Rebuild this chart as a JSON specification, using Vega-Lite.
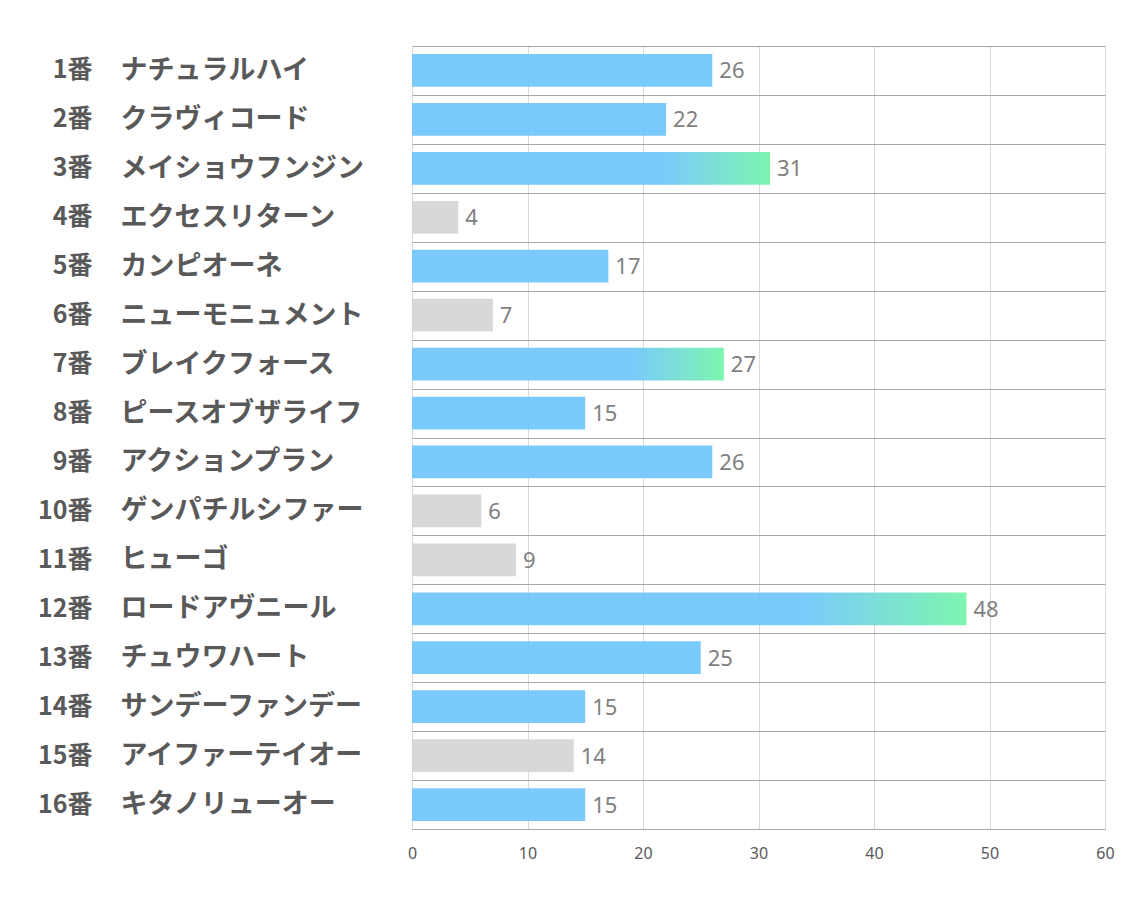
{
  "$schema": "https://vega.github.io/schema/vega-lite/v6.json",
  "autosize": "none",
  "padding": {"left": 412, "top": 46, "right": 29, "bottom": 78},
  "width": 693,
  "height": 783,
  "background": "white",
  "config": {"view": {"stroke": null}},
  "data": {
    "values": [
      {"num": 1, "name": "ナチュラルハイ", "value": 26, "group": "blue"},
      {"num": 2, "name": "クラヴィコード", "value": 22, "group": "blue"},
      {"num": 3, "name": "メイショウフンジン", "value": 31, "group": "top"},
      {"num": 4, "name": "エクセスリターン", "value": 4, "group": "gray"},
      {"num": 5, "name": "カンピオーネ", "value": 17, "group": "blue"},
      {"num": 6, "name": "ニューモニュメント", "value": 7, "group": "gray"},
      {"num": 7, "name": "ブレイクフォース", "value": 27, "group": "top"},
      {"num": 8, "name": "ピースオブザライフ", "value": 15, "group": "blue"},
      {"num": 9, "name": "アクションプラン", "value": 26, "group": "blue"},
      {"num": 10, "name": "ゲンパチルシファー", "value": 6, "group": "gray"},
      {"num": 11, "name": "ヒューゴ", "value": 9, "group": "gray"},
      {"num": 12, "name": "ロードアヴニール", "value": 48, "group": "top"},
      {"num": 13, "name": "チュウワハート", "value": 25, "group": "blue"},
      {"num": 14, "name": "サンデーファンデー", "value": 15, "group": "blue"},
      {"num": 15, "name": "アイファーテイオー", "value": 14, "group": "gray"},
      {"num": 16, "name": "キタノリューオー", "value": 15, "group": "blue"}
    ]
  },
  "resolve": {"axis": {"y": "independent"}},
  "encoding": {
    "x": {
      "field": "value",
      "type": "quantitative",
      "scale": {"domain": [0, 60], "nice": false},
      "axis": {
        "title": null,
        "values": [0, 10, 20, 30, 40, 50, 60],
        "grid": true,
        "gridColor": "#d9d9d9",
        "domain": true,
        "domainColor": "#a6a6a6",
        "ticks": false,
        "labelFlush": false,
        "labelPadding": 16,
        "labelFont": "Noto Sans",
        "labelFontSize": 16,
        "labelColor": "#595959"
      }
    }
  },
  "layer": [
    {
      "transform": [{"filter": "datum.group != 'top'"}],
      "mark": {"type": "bar", "height": {"band": 0.67}, "fillOpacity": 0.9},
      "encoding": {
        "y": {
          "field": "num",
          "type": "ordinal",
          "sort": "ascending",
          "scale": {"paddingInner": 0, "paddingOuter": 0},
          "axis": {
            "title": null,
            "orient": "left",
            "domain": false,
            "ticks": false,
            "grid": true,
            "tickBand": "extent",
            "gridColor": "#a6a6a6",
            "gridWidth": 1,
            "labelAlign": "left",
            "labelPadding": 292,
            "labelLimit": 0,
            "labelFont": "Noto Sans CJK JP",
            "labelFontWeight": "bold",
            "labelFontSize": 27,
            "labelColor": "#595959",
            "labelExpr": "isValid(datum.value) && datum.value >= 1 && datum.value <= 16 ? ['ナチュラルハイ','クラヴィコード','メイショウフンジン','エクセスリターン','カンピオーネ','ニューモニュメント','ブレイクフォース','ピースオブザライフ','アクションプラン','ゲンパチルシファー','ヒューゴ','ロードアヴニール','チュウワハート','サンデーファンデー','アイファーテイオー','キタノリューオー'][datum.value - 1] : ''"
          }
        },
        "color": {
          "field": "group",
          "type": "nominal",
          "scale": {"domain": ["blue", "gray"], "range": ["#6cc4fd", "#d4d4d4"]},
          "legend": null
        }
      }
    },
    {
      "transform": [{"filter": "datum.group == 'top'"}],
      "mark": {
        "type": "bar",
        "height": {"band": 0.67},
        "fillOpacity": 0.9,
        "fill": {
          "gradient": "linear",
          "x1": 0, "y1": 0, "x2": 1, "y2": 0,
          "stops": [
            {"offset": 0, "color": "#6cc4fd"},
            {"offset": 0.7, "color": "#6cc4fd"},
            {"offset": 1, "color": "#6ff4a6"}
          ]
        }
      },
      "encoding": {
        "y": {"field": "num", "type": "ordinal", "sort": "ascending", "axis": null}
      }
    },
    {
      "mark": {
        "type": "text",
        "align": "left",
        "baseline": "middle",
        "dx": 7,
        "dy": 1,
        "font": "Noto Sans",
        "fontSize": 22,
        "color": "#7f7f7f"
      },
      "encoding": {
        "y": {
          "field": "num",
          "type": "ordinal",
          "sort": "ascending",
          "axis": {
            "title": null,
            "orient": "left",
            "domain": false,
            "ticks": false,
            "grid": false,
            "labelAlign": "right",
            "labelPadding": 320,
            "labelLimit": 0,
            "labelFont": "Noto Sans CJK JP",
            "labelFontWeight": "bold",
            "labelFontSize": 25,
            "labelColor": "#595959",
            "labelExpr": "datum.value + '番'"
          }
        },
        "text": {"field": "value", "type": "quantitative"}
      }
    }
  ]
}
